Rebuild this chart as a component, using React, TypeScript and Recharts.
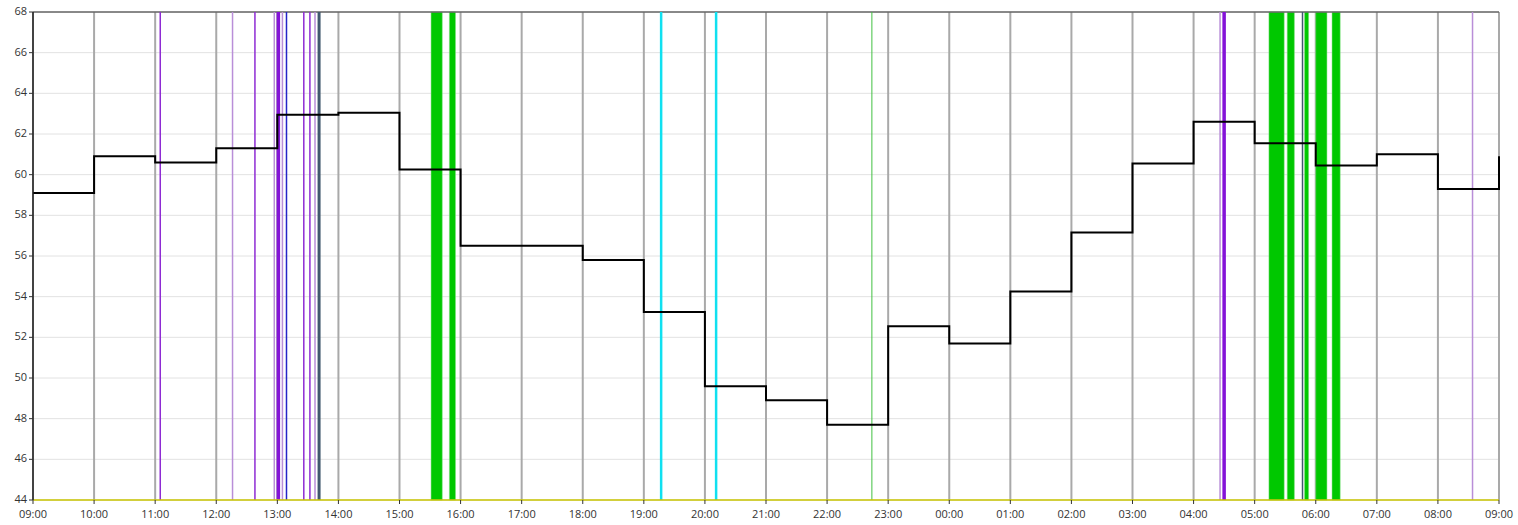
import React from 'react';
import { ComposedChart, Line, XAxis, YAxis, CartesianGrid, ReferenceLine, ReferenceArea } from 'recharts';

// hours counted from the 09:00 start of the axis
const hourTicks = [0, 1, 2, 3, 4, 5, 6, 7, 8, 9, 10, 11, 12, 13, 14, 15, 16, 17, 18, 19, 20, 21, 22, 23, 24];
const valueTicks = [44, 46, 48, 50, 52, 54, 56, 58, 60, 62, 64, 66, 68];

// hourly step values (start of each hour) + final point at 09:00 next day
const stepHours = [0, 1, 2, 3, 4, 5, 6, 7, 8, 9, 10, 11, 12, 13, 14, 15, 16, 17, 18, 19, 20, 21, 22, 23, 24];
const stepValues = [59.1, 60.9, 60.6, 61.3, 62.95, 63.05, 60.25, 56.5, 56.5, 55.8, 53.25, 49.6, 48.9, 47.7, 52.55, 51.7, 54.25, 57.15, 60.55, 62.6, 61.55, 60.45, 61.0, 59.3, 60.9];

// event markers (clock times)
const purpleEvents = ['11:05', '12:38', '13:26', '13:32'];
const lightPurpleEvents = ['12:16', '12:57', '13:05', '13:37', '04:26', '08:34'];
const strongPurpleEvents = ['13:01', '04:30'];
const blueEvents = ['13:09'];
const slateEvents = ['13:41', '05:47'];
const cyanEvents = ['19:17', '20:11'];
const greenEvents = ['22:44'];
const greenSpans = [
  ['15:31', '15:42'],
  ['15:49', '15:55'],
  ['05:14', '05:29'],
  ['05:32', '05:39'],
  ['05:49', '05:53'],
  ['06:00', '06:11'],
  ['06:16', '06:24'],
];

const toH = (t: string) => {
  const [hh, mm] = t.split(':').map(Number);
  let h = hh - 9 + mm / 60;
  if (h < 0) h += 24;
  return h;
};

const fmtHour = (h: number) => {
  const c = (9 + h) % 24;
  return (c < 10 ? '0' : '') + c + ':00';
};

const data = stepHours.map((h, i) => ({ h, v: stepValues[i] }));

const tickStyle = { fontSize: 11, fill: '#333', fontFamily: 'Open Sans, sans-serif' };

export default function App() {
  return (
    <div style={{ position: 'absolute', left: 0, top: 0 }}>
      <ComposedChart width={1518} height={525} data={data} margin={{ top: 12, right: 19, left: 0, bottom: 0 }}>
        <CartesianGrid vertical={false} stroke="#e2e2e2" />
        <CartesianGrid horizontal={false} stroke="#a9a9a9" strokeWidth={2} />
        <XAxis
          dataKey="h"
          type="number"
          domain={[0, 24]}
          ticks={hourTicks}
          tickFormatter={fmtHour}
          interval={0}
          height={25}
          tickSize={4}
          tick={{ ...tickStyle, dy: 4 }}
          axisLine={{ stroke: '#c8c400', strokeWidth: 1.5 }}
          tickLine={{ stroke: '#333' }}
        />
        <YAxis
          type="number"
          domain={[44, 68]}
          ticks={valueTicks}
          interval={0}
          width={33}
          tickSize={4}
          tick={{ ...tickStyle, dy: -1 }}
          axisLine={{ stroke: '#222', strokeWidth: 1.5 }}
          tickLine={{ stroke: '#333' }}
        />
        <ReferenceLine y={68} stroke="#666" strokeWidth={1.5} />
        {greenSpans.map(([a, b], i) => (
          <ReferenceArea key={'g' + i} x1={toH(a)} x2={toH(b)} y1={44} y2={68} fill="#00c800" fillOpacity={1} stroke="#7ee07e" strokeWidth={0.5} />
        ))}
        {lightPurpleEvents.map((t, i) => (
          <ReferenceLine key={'lp' + i} x={toH(t)} stroke="#b98ed8" strokeWidth={1.5} />
        ))}
        {purpleEvents.map((t, i) => (
          <ReferenceLine key={'p' + i} x={toH(t)} stroke="#8e2bd3" strokeWidth={1.5} />
        ))}
        {strongPurpleEvents.map((t, i) => (
          <ReferenceLine key={'sp' + i} x={toH(t)} stroke="#8412d8" strokeWidth={3.5} />
        ))}
        {blueEvents.map((t, i) => (
          <ReferenceLine key={'b' + i} x={toH(t)} stroke="#2424c8" strokeWidth={1.5} />
        ))}
        {slateEvents.map((t, i) => (
          <ReferenceLine key={'s' + i} x={toH(t)} stroke="#40586e" strokeWidth={i === 0 ? 3 : 1.5} />
        ))}
        {cyanEvents.map((t, i) => (
          <ReferenceLine key={'c' + i} x={toH(t)} stroke="#10e0f0" strokeWidth={2.5} />
        ))}
        {greenEvents.map((t, i) => (
          <ReferenceLine key={'gl' + i} x={toH(t)} stroke="#40c040" strokeWidth={1} />
        ))}
        <Line
          type="stepAfter"
          dataKey="v"
          stroke="#000"
          strokeWidth={2}
          dot={false}
          activeDot={false}
          isAnimationActive={false}
        />
      </ComposedChart>
    </div>
  );
}
